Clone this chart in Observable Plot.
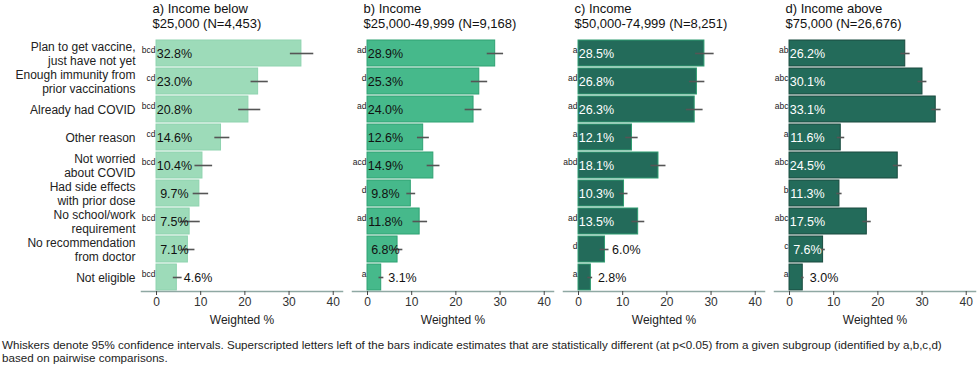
<!DOCTYPE html>
<html>
<head>
<meta charset="utf-8">
<script src="https://cdn.jsdelivr.net/npm/d3@7"></script>
<script src="https://cdn.jsdelivr.net/npm/@observablehq/plot@0.6"></script>
<style>
  body { margin: 0; background: #fff; font-family: "Liberation Sans", Arial, sans-serif; }
  #caption { font-size: 11.6px; line-height: 12.5px; color: #222; margin: 7px 0 0 2px; width: 955px; }
</style>
</head>
<body>
<div id="chart"></div>
<div id="caption">Whiskers denote 95% confidence intervals. Superscripted letters left of the bars indicate estimates that are statistically different (at p&lt;0.05) from a given subgroup (identified by a,b,c,d) based on pairwise comparisons.</div>
<script>
const categories = [
  "Plan to get vaccine,\njust have not yet",
  "Enough immunity from\nprior vaccinations",
  "Already had COVID",
  "Other reason",
  "Not worried\nabout COVID",
  "Had side effects\nwith prior dose",
  "No school/work\nrequirement",
  "No recommendation\nfrom doctor",
  "Not eligible"
];
const groups = ["a", "b", "c", "d"];
const panelTitles = [
  "a) Income below\n$25,000 (N=4,453)",
  "b) Income\n$25,000-49,999 (N=9,168)",
  "c) Income\n$50,000-74,999 (N=8,251)",
  "d) Income above\n$75,000 (N=26,676)"
];
const xTicks = [0, 10, 20, 30, 40];
const axisLabel = "Weighted %";

const pctA = [32.8, 23.0, 20.8, 14.6, 10.4, 9.7, 7.5, 7.1, 4.6];
const lowA = [30.3, 21.4, 18.6, 13.2, 8.7, 8.3, 5.4, 5.7, 3.8];
const highA = [35.6, 25.3, 23.6, 16.6, 12.7, 11.8, 9.9, 8.7, 5.8];
const lettersA = ["bcd", "cd", "bcd", "cd", "bcd", "", "bcd", "", "bcd"];

const pctB = [28.9, 25.3, 24.0, 12.6, 14.9, 9.8, 11.8, 6.8, 3.1];
const lowB = [27.1, 23.5, 22.1, 11.3, 13.5, 8.9, 10.3, 5.7, 2.6];
const highB = [30.8, 27.2, 25.9, 14.0, 16.4, 10.9, 13.6, 8.0, 3.7];
const lettersB = ["ad", "d", "ad", "", "acd", "d", "ad", "", "a"];

const pctC = [28.5, 26.8, 26.3, 12.1, 18.1, 10.3, 13.5, 6.0, 2.8];
const lowC = [26.5, 25.1, 24.4, 10.7, 16.4, 9.3, 12.1, 4.9, 2.1];
const highC = [30.7, 28.6, 28.2, 13.5, 19.8, 11.2, 15.0, 6.9, 3.2];
const lettersC = ["a", "ad", "ad", "a", "abd", "", "ad", "d", "a"];

const pctD = [26.2, 30.1, 33.1, 11.6, 24.5, 11.3, 17.5, 7.6, 3.0];
const lowD = [25.2, 29.1, 32.2, 10.8, 23.5, 10.7, 16.6, 7.1, 2.7];
const highD = [27.3, 31.1, 34.3, 12.5, 25.5, 11.9, 18.5, 8.1, 3.3];
const lettersD = ["ab", "abc", "abc", "a", "abc", "b", "abc", "c", "a"];

// styling
const fills = {a: "#9ddbb9", b: "#46b98b", c: "#236b5a", d: "#236b5a"};
const strokes = {a: "#8fd3af", b: "#2fa273", c: "#2f9c70", d: "#1a4b3f"};
const insideText = {a: "#111", b: "#111", c: "#fff", d: "#fff"};

const series = {
  a: [pctA, lowA, highA, lettersA],
  b: [pctB, lowB, highB, lettersB],
  c: [pctC, lowC, highC, lettersC],
  d: [pctD, lowD, highD, lettersD]
};
const rows = [];
for (const g of groups) {
  const [p, lo, hi, le] = series[g];
  categories.forEach((c, i) => rows.push({group: g, cat: c, pct: p[i], lo: lo[i], hi: hi[i], letters: le[i], label: p[i].toFixed(1) + "%"}));
}
const insideRows = rows.filter(d => d.pct >= 6.5);
const outsideRows = rows.filter(d => d.pct < 6.5);
const panels = groups.map((g, i) => ({group: g, title: panelTitles[i], label: axisLabel}));

const chart = Plot.plot({
  width: 980,
  height: 332,
  marginTop: 35,
  marginBottom: 41,
  marginLeft: 140,
  marginRight: 3,
  style: {fontFamily: "Liberation Sans, Arial, sans-serif", fontSize: "12px", color: "#222"},
  fx: {domain: groups, axis: null, paddingInner: 0.0457, paddingOuter: 0},
  x: {domain: [-3.4, 42.1]},
  y: {domain: categories, paddingInner: 0.08, paddingOuter: 0.04, insetTop: 3},
  marks: [
    Plot.gridX(panels, {fx: "group", ticks: xTicks, stroke: "#d4d4d4", strokeOpacity: 1, strokeWidth: 1.5}),
    Plot.barX(rows, {fx: "group", y: "cat", x1: 0, x2: "pct", fill: d => fills[d.group], stroke: d => strokes[d.group], strokeWidth: 1}),
    Plot.ruleY(rows, {fx: "group", y: "cat", x1: "lo", x2: "hi", stroke: "#555", strokeWidth: 1.6}),
    Plot.text(insideRows, {fx: "group", y: "cat", x: 4.05, text: "label", textAnchor: "middle", fontSize: 12.5, fill: d => insideText[d.group]}),
    Plot.text(outsideRows, {fx: "group", y: "cat", x: "pct", text: "label", textAnchor: "start", dx: 7, fontSize: 12.5, fill: "#111"}),
    Plot.text(rows.filter(d => d.letters), {fx: "group", y: "cat", x: 0, text: "letters", textAnchor: "end", dx: -1, dy: -3, fontSize: 8.5, fill: "#222"}),
    Plot.frame({anchor: "bottom", stroke: "#8fa8a3", strokeWidth: 1.5}),
    Plot.axisX({ticks: xTicks, tickSize: 4, tickPadding: 2, label: null, stroke: "#444", fill: "#333", fontSize: 12}),
    Plot.axisY({tickSize: 0, tickPadding: 6, label: null, fontSize: 12, lineHeight: 1.17, fill: "#222"}),
    Plot.text(panels, {fx: "group", text: "title", frameAnchor: "top-left", dx: 11, dy: -33, textAnchor: "start", lineAnchor: "top", lineHeight: 1.15, fontSize: 13, fill: "#111"}),
    Plot.text(panels, {fx: "group", text: "label", frameAnchor: "bottom", dy: 32, fontSize: 12, fill: "#222"})
  ]
});
document.getElementById("chart").appendChild(chart);
</script>
</body>
</html>
